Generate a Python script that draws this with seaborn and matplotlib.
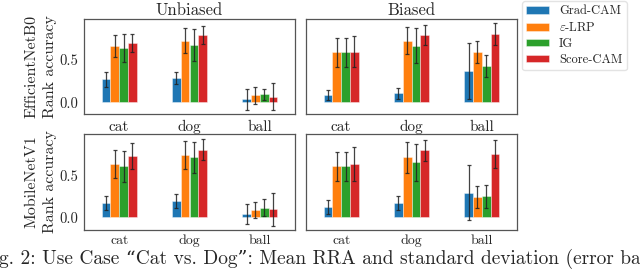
import numpy as np
import pandas as pd
import matplotlib
matplotlib.use("Agg")
import matplotlib.pyplot as plt
from matplotlib.container import BarContainer
import seaborn as sns

categories = ["cat", "dog", "ball"]
methods = ["Grad-CAM", r"$\varepsilon$-LRP", "IG", "Score-CAM"]
colors = ["#1f77b4", "#ff7f0e", "#2ca02c", "#d62728"]
col_titles = ["Unbiased", "Biased"]
row_titles = ["EfficientNetB0", "MobileNetV1"]

# rows: methods, columns: categories (cat, dog, ball)
eff_unbiased_mean = [[0.27, 0.29, 0.035], [0.665, 0.73, 0.08], [0.64, 0.68, 0.095], [0.705, 0.795, 0.067]]
eff_unbiased_std = [[0.09, 0.07, 0.125], [0.13, 0.15, 0.10], [0.165, 0.19, 0.065], [0.105, 0.105, 0.155]]
eff_biased_mean = [[0.083, 0.106, 0.37], [0.59, 0.73, 0.59], [0.59, 0.67, 0.43], [0.60, 0.795, 0.807]]
eff_biased_std = [[0.063, 0.067, 0.33], [0.17, 0.16, 0.13], [0.175, 0.21, 0.13], [0.178, 0.12, 0.135]]
mob_unbiased_mean = [[0.172, 0.196, 0.04], [0.636, 0.744, 0.088], [0.608, 0.716, 0.116], [0.732, 0.808, 0.096]]
mob_unbiased_std = [[0.078, 0.08, 0.12], [0.168, 0.168, 0.10], [0.18, 0.182, 0.102], [0.152, 0.126, 0.198]]
mob_biased_mean = [[0.123, 0.167, 0.294], [0.61, 0.715, 0.242], [0.61, 0.66, 0.25], [0.64, 0.80, 0.762]]
mob_biased_std = [[0.083, 0.083, 0.33], [0.175, 0.18, 0.13], [0.175, 0.22, 0.135], [0.2, 0.127, 0.167]]

panels = [[(eff_unbiased_mean, eff_unbiased_std), (eff_biased_mean, eff_biased_std)],
          [(mob_unbiased_mean, mob_unbiased_std), (mob_biased_mean, mob_biased_std)]]
row_ylims = [(-0.14, 0.985), (-0.15, 0.995)]

sns.set_style("white")
plt.rcParams["font.family"] = ["cmr10", "DejaVu Serif"]
plt.rcParams["mathtext.fontset"] = "cm"
plt.rcParams["axes.formatter.use_mathtext"] = True
plt.rcParams["axes.edgecolor"] = "#555555"
plt.rcParams["axes.linewidth"] = 0.9

fig = plt.figure(figsize=(6.4, 2.7), dpi=100)
W, H = 640, 270
axes_px = [[(84, 19, 295, 114), (306, 19, 517, 114)],
           [(84, 134, 295, 230), (306, 134, 517, 230)]]

for r in range(2):
    for c in range(2):
        l, t, rr, b = axes_px[r][c]
        ax = fig.add_axes([l / W, 1 - b / H, (rr - l) / W, (b - t) / H])
        mean, std = panels[r][c]
        df = pd.DataFrame([
            {"category": categories[j], "method": methods[i], "value": mean[i][j], "std": std[i][j]}
            for i in range(len(methods)) for j in range(len(categories))
        ])
        sns.barplot(data=df, x="category", y="value", hue="method", order=categories,
                    hue_order=methods, palette=colors, width=0.5, saturation=1,
                    errorbar=None, ax=ax, edgecolor=(1, 1, 1, 0.45), linewidth=0.6,
                    legend=(r == 0 and c == 1))
        bar_conts = [cn for cn in ax.containers if isinstance(cn, BarContainer)]
        for i, cont in enumerate(bar_conts):
            xs = [p.get_x() + p.get_width() / 2 for p in cont.patches]
            hs = [p.get_height() for p in cont.patches]
            ax.errorbar(xs, hs, yerr=std[i], fmt="none", ecolor="#222222",
                        elinewidth=0.9, capsize=1.3, capthick=0.9, alpha=0.85)
        ax.set_ylim(*row_ylims[r])
        ax.set_xlim(-0.5, 2.5)
        ax.set_yticks([0.0, 0.5])
        ax.set_xlabel("")
        ax.tick_params(axis="both", length=2.5, width=0.8, color="#333333", pad=2, labelsize=10.5)
        if r == 0:
            ax.tick_params(axis="x", labelsize=11)
        else:
            ax.tick_params(axis="x", labelsize=10, pad=1)
        if c == 0:
            ax.set_yticklabels(["0.0", "0.5"])
            ax.set_ylabel("Rank accuracy", fontsize=11.5, labelpad=1)
            fig.text(32 / W, 1 - ((t + b) / 2) / H, row_titles[r], rotation=90,
                     ha="center", va="center", fontsize=11.5)
        else:
            ax.set_yticklabels([])
            ax.set_ylabel("")
        if r == 0:
            ax.set_title(col_titles[c], fontsize=12, pad=3)
        if r == 0 and c == 1:
            handles, labels = ax.get_legend_handles_labels()
            ax.get_legend().remove()
            fig.legend(handles, labels, loc="upper left",
                       bbox_to_anchor=(522 / W, 1 - 1 / H), fontsize=9,
                       frameon=True, edgecolor="#dddddd", handlelength=1.8,
                       handleheight=0.55, labelspacing=0.3, borderpad=0.35,
                       handletextpad=0.8, borderaxespad=0)

fig.text(-19 / W, 1 - 264 / H,
         "Fig. 2: Use Case \u201cCat vs. Dog\u201d: Mean RRA and standard deviation (error bars)",
         ha="left", va="baseline", fontsize=14)

fig.savefig("out.png", dpi=100)
